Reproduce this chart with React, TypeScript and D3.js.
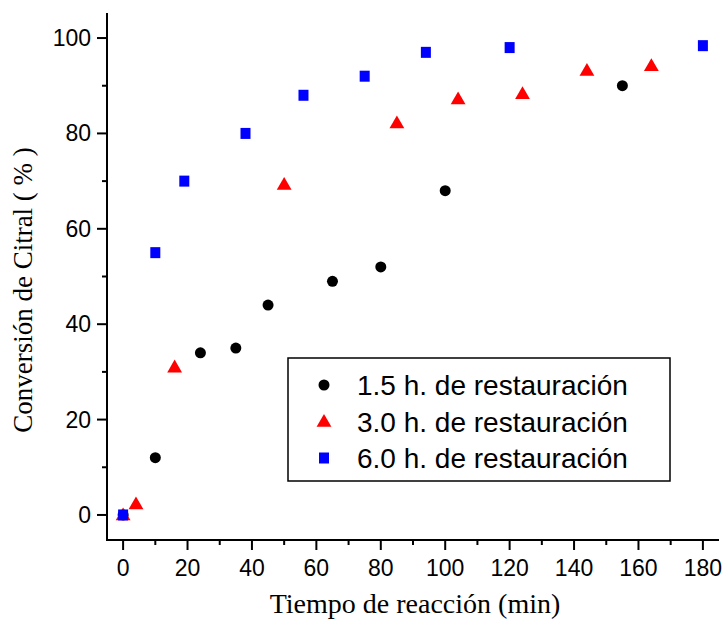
import React from "react";
import * as d3 from "d3";

const series15X = [0, 10, 24, 35, 45, 65, 80, 100, 155];
const series15Y = [0, 12, 34, 35, 44, 49, 52, 68, 90];
const series30X = [0, 4, 16, 50, 85, 104, 124, 144, 164];
const series30Y = [0, 2.3, 31, 69.3, 82.2, 87.2, 88.3, 93.2, 94.2];
const series60X = [0, 10, 19, 38, 56, 75, 94, 120, 180];
const series60Y = [0, 55, 70, 80, 88, 92, 97, 98, 98.4];
const legendLabels = ["1.5 h. de restauración", "3.0 h. de restauración", "6.0 h. de restauración"];
const xMajorTicks = [0, 20, 40, 60, 80, 100, 120, 140, 160, 180];
const xMinorTicks = [10, 30, 50, 70, 90, 110, 130, 150, 170];
const yMajorTicks = [0, 20, 40, 60, 80, 100];
const yMinorTicks = [10, 30, 50, 70, 90];
const xTitle = "Tiempo de reacción (min)";
const yTitle = "Conversión de Citral ( % )";

const W = 724;
const H = 626;

export default function App() {
  const x = d3.scaleLinear().domain([-5, 185]).range([107, 719]);
  const y = d3.scaleLinear().domain([-5.25, 105.25]).range([540, 13]);
  const sans = "'Liberation Sans', Arial, sans-serif";
  const serif = "'Liberation Serif', 'Times New Roman', serif";
  const tri = d3.symbol().type(d3.symbolTriangle).size(95)() as string;

  const circle = (cx: number, cy: number, k: string | number) => (
    <circle key={k} cx={cx} cy={cy} r={5.5} fill="#000" />
  );
  const triangle = (cx: number, cy: number, k: string | number) => (
    <path key={k} d={tri} transform={`translate(${cx},${cy + 1})`} fill="#ff0000" />
  );
  const square = (cx: number, cy: number, k: string | number) => (
    <rect key={k} x={cx - 5} y={cy - 5.5} width={10} height={11} fill="#0000ff" />
  );

  const legendX = 288, legendY = 358, legendW = 382, legendH = 123;
  const rowYs = [385, 421.5, 458];
  const markers = [circle, triangle, square];

  return (
    <svg width={W} height={H} style={{ position: "absolute", left: 0, top: 0, background: "#fff" }}>
      <rect x={0} y={0} width={W} height={H} fill="#fff" />
      {/* axes */}
      <line x1={x(-5)} x2={x(-5)} y1={y(105.25)} y2={y(-5.25)} stroke="#000" strokeWidth={2} />
      <line x1={x(-5) - 1} x2={x(185)} y1={y(-5.25)} y2={y(-5.25)} stroke="#000" strokeWidth={2} />
      {xMajorTicks.map((t) => (
        <g key={"xm" + t}>
          <line x1={x(t)} x2={x(t)} y1={y(-5.25)} y2={y(-5.25) + 10} stroke="#000" strokeWidth={2} />
          <text x={x(t)} y={576} textAnchor="middle" fontFamily={sans} fontSize={23} fill="#000">{t}</text>
        </g>
      ))}
      {xMinorTicks.map((t) => (
        <line key={"xn" + t} x1={x(t)} x2={x(t)} y1={y(-5.25)} y2={y(-5.25) + 5} stroke="#000" strokeWidth={2} />
      ))}
      {yMajorTicks.map((t) => (
        <g key={"ym" + t}>
          <line x1={x(-5) - 10} x2={x(-5)} y1={y(t)} y2={y(t)} stroke="#000" strokeWidth={2} />
          <text x={91} y={y(t)} dy="0.35em" textAnchor="end" fontFamily={sans} fontSize={23} fill="#000">{t}</text>
        </g>
      ))}
      {yMinorTicks.map((t) => (
        <line key={"yn" + t} x1={x(-5) - 5} x2={x(-5)} y1={y(t)} y2={y(t)} stroke="#000" strokeWidth={2} />
      ))}
      {/* titles */}
      <text x={415} y={613} textAnchor="middle" fontFamily={serif} fontSize={28} fill="#000">{xTitle}</text>
      <text transform={`translate(32,290) rotate(-90)`} textAnchor="middle" fontFamily={serif} fontSize={27} fill="#000">{yTitle}</text>
      {/* data */}
      {series15X.map((v, i) => circle(x(v), y(series15Y[i]), "c" + i))}
      {series30X.map((v, i) => triangle(x(v), y(series30Y[i]), "t" + i))}
      {series60X.map((v, i) => square(x(v), y(series60Y[i]), "s" + i))}
      {/* legend */}
      <rect x={legendX} y={legendY} width={legendW} height={legendH} fill="#fff" stroke="#000" strokeWidth={1.5} />
      {legendLabels.map((l, i) => (
        <g key={"lg" + i}>
          {markers[i](324, rowYs[i], "lm" + i)}
          <text x={357} y={rowYs[i]} dy="0.36em" fontFamily={sans} fontSize={28} fill="#000">{l}</text>
        </g>
      ))}
    </svg>
  );
}
